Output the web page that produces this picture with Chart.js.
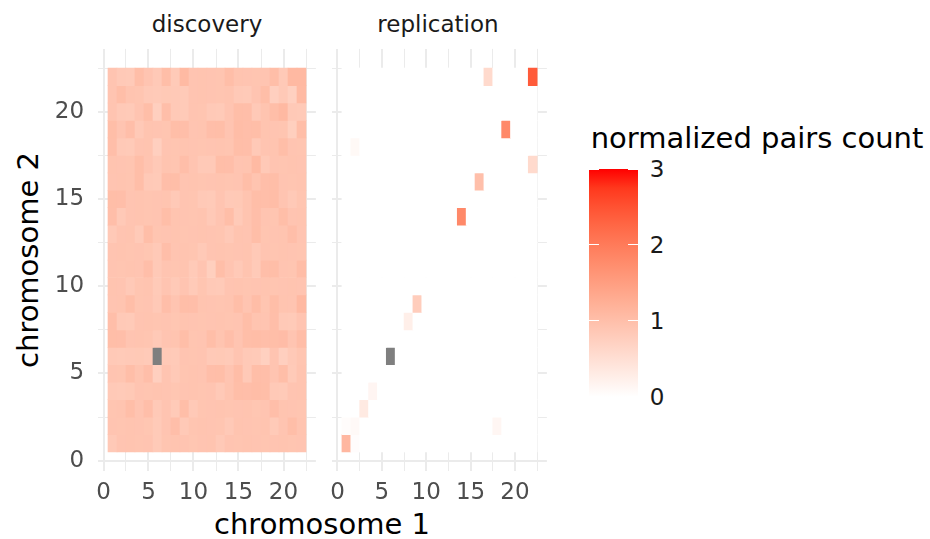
<!DOCTYPE html>
<html>
<head>
<meta charset="utf-8">
<script src="https://cdn.jsdelivr.net/npm/chart.js@4.4.0/dist/chart.umd.min.js"></script>
<style>
  body { margin: 0; background: #fff; width: 930px; height: 539px; position: relative; overflow: hidden; font-family: "DejaVu Sans", sans-serif; }
  canvas { position: absolute; top: 0; }
  .txt { position: absolute; white-space: nowrap; transform: translate(-50%, -50%); }
</style>
</head>
<body>
<div class="txt" id="strip1" style="left:207px; top:24px; font-size:23px; color:#1A1A1A;"></div>
<div class="txt" id="strip2" style="left:438px; top:24px; font-size:23px; color:#1A1A1A;"></div>
<div class="txt" style="left:28px; top:260px; font-size:29px; color:#000; transform: translate(-50%, -50%) rotate(-90deg);">chromosome 2</div>
<div class="txt" style="left:322px; top:524px; font-size:29px; color:#000;">chromosome 1</div>
<div class="txt" style="left:757px; top:138px; font-size:29px; color:#000;">normalized pairs count</div>
<div id="legend"></div>
<canvas id="disc" width="322" height="539" style="left:0px"></canvas>
<canvas id="repl" width="230" height="539" style="left:322px"></canvas>
<script>
var chromosomes = [1,2,3,4,5,6,7,8,9,10,11,12,13,14,15,16,17,18,19,20,21,22];
var facets = ['discovery', 'replication'];
var tickLabels = [0, 5, 10, 15, 20];
var gridValues = [0, 2.5, 5, 7.5, 10, 12.5, 15, 17.5, 20, 22.5];
var legendBreaks = [0, 1, 2, 3];

// rows = chromosome 2 (1..22), columns = chromosome 1 (1..22); null = NA
var discovery = [
  [0.84,0.92,0.93,0.91,0.92,0.83,0.91,0.93,0.92,0.90,0.92, 0.93,0.84,0.92,0.91,0.93,0.92,0.91,0.92,0.93,0.91,0.92],
  [0.92,0.91,0.93,0.92,0.90,0.83,0.92,1.01,0.84,0.91,0.93, 0.92,0.91,0.84,0.93,0.92,0.91,0.93,0.83,0.92,1.02,0.93],
  [0.91,0.93,1.02,0.92,1.01,0.84,0.92,0.83,1.02,0.84,0.91, 0.92,0.93,0.91,0.92,0.93,0.90,0.92,1.01,0.93,0.92,0.91],
  [0.84,0.83,0.85,0.92,0.91,0.93,0.92,0.90,0.92,0.93,0.91, 0.92,0.84,0.93,1.02,1.01,1.03,1.02,0.84,0.83,0.92,0.93],
  [0.92,0.91,1.02,0.93,1.01,0.75,0.92,0.84,0.91,0.93,0.92, 1.01,1.02,0.92,1.03,0.84,1.02,1.01,0.92,1.02,0.83,0.93],
  [0.84,0.83,0.84,0.85,0.83,null,0.84,0.83,0.92,0.91,0.92, 0.84,0.85,0.83,0.92,0.84,0.83,0.74,0.92,0.75,0.84,0.91],
  [1.02,1.01,0.92,0.93,0.91,0.84,0.92,0.93,1.02,0.91,0.92, 1.02,0.93,1.01,0.92,1.02,1.03,1.01,1.02,1.04,0.92,1.03],
  [1.01,0.84,0.83,0.92,0.93,0.91,0.92,0.90,0.93,0.92,0.91, 0.92,0.93,0.91,0.92,1.02,0.93,0.92,1.01,0.84,0.83,0.92],
  [0.92,0.93,1.02,0.91,0.92,0.84,1.01,0.92,1.02,1.01,0.93, 0.92,0.91,0.93,1.02,0.92,1.03,0.91,1.02,0.93,0.92,1.09],
  [0.93,0.92,0.84,0.91,0.93,0.83,0.92,0.84,0.92,0.83,0.91, 0.84,0.83,0.92,0.93,0.91,0.92,0.93,0.91,0.92,0.93,0.92],
  [0.92,0.91,0.93,0.92,1.01,0.84,0.92,0.91,0.93,0.83,0.92, 0.76,1.02,0.92,0.84,0.93,0.83,1.01,1.02,0.92,0.91,1.03],
  [0.92,0.93,0.91,0.92,0.90,0.84,1.01,0.92,0.93,0.91,0.84, 0.92,0.93,0.91,0.92,0.93,0.84,0.92,0.91,0.93,0.92,0.91],
  [0.84,0.92,0.93,0.83,1.02,0.91,0.92,0.93,0.91,0.92,0.93, 0.92,0.91,0.84,0.93,0.92,1.02,0.91,0.92,0.93,1.01,0.92],
  [1.01,0.84,0.92,0.93,0.91,0.92,1.02,0.93,0.92,0.91,0.93, 0.84,0.92,1.02,0.83,0.93,1.01,0.92,0.91,1.02,0.92,0.93],
  [1.02,1.01,0.92,0.93,0.91,0.92,0.93,0.84,0.92,0.91,0.84, 0.83,0.92,0.84,0.85,0.93,1.02,1.01,1.03,0.92,0.84,0.91],
  [0.92,0.93,0.91,1.02,0.84,0.83,1.01,1.02,0.92,0.93,0.91, 0.92,0.93,0.91,0.92,1.02,0.93,1.01,1.02,0.92,0.91,0.93],
  [0.93,0.92,0.91,1.02,0.92,0.84,0.93,0.91,1.01,0.92,0.84, 0.84,1.02,1.01,0.92,0.93,1.08,0.84,0.92,0.91,0.93,0.92],
  [1.01,0.84,0.83,0.92,0.93,0.75,0.92,0.91,0.93,0.92,0.91, 0.92,0.93,0.91,1.02,1.01,0.84,0.92,0.93,1.02,0.92,0.91],
  [1.02,0.92,1.01,0.84,0.93,0.92,0.91,1.02,1.01,0.92,0.93, 1.01,1.02,0.92,1.03,1.01,1.02,0.93,0.92,0.91,0.76,1.02],
  [0.92,0.84,0.83,0.92,1.02,0.75,1.01,0.84,0.83,0.92,0.91, 0.84,0.83,0.92,1.02,1.01,0.84,0.93,1.02,1.09,0.84,0.83],
  [0.92,1.02,0.93,0.91,0.84,0.83,0.85,0.84,0.83,0.92,0.93, 0.92,0.91,0.93,0.84,0.83,0.92,1.02,0.75,0.84,0.74,1.08],
  [0.92,0.84,0.83,1.02,0.92,0.84,1.02,0.83,1.08,0.92,0.93, 0.92,0.91,1.02,0.93,0.92,0.91,0.92,1.02,0.84,1.09,1.10]
];

var replication = [
  [1.12,0.04,0,0,0,0,0,0,0,0,0, 0,0,0,0,0,0,0,0,0,0,0],
  [0.05,0.09,0,0,0,0,0,0,0,0,0, 0,0,0,0,0,0,0.14,0,0,0,0],
  [0,0,0.33,0,0,0,0,0,0,0,0, 0,0,0,0,0,0,0,0,0,0,0],
  [0,0,0,0.15,0,0,0,0,0,0,0, 0,0,0,0,0,0,0,0,0,0,0],
  [0,0,0,0,0,0,0,0,0,0,0, 0,0,0,0,0,0,0,0,0,0,0],
  [0,0,0,0,0,null,0,0,0,0,0, 0,0,0,0,0,0,0,0,0,0,0],
  [0,0,0,0,0,0,0,0,0,0,0, 0,0,0,0,0,0,0,0,0,0,0],
  [0,0,0,0,0,0,0,0.25,0,0,0, 0,0,0,0,0,0,0,0,0,0,0],
  [0,0,0,0,0,0,0,0,0.78,0,0, 0,0,0,0,0,0,0,0,0,0,0],
  [0,0,0,0,0,0,0,0,0,0,0, 0,0,0,0,0,0,0,0,0,0,0],
  [0,0,0,0,0,0,0,0,0,0,0, 0,0,0,0,0,0,0,0,0,0,0],
  [0,0,0,0,0,0,0,0,0,0,0, 0,0,0,0,0,0,0,0,0,0,0],
  [0,0,0,0,0,0,0,0,0,0,0, 0,0,0,0,0,0,0,0,0,0,0],
  [0,0,0,0,0,0,0,0,0,0,0, 0,0,1.80,0,0,0,0,0,0,0,0],
  [0,0,0,0,0,0,0,0,0,0,0, 0,0,0,0,0,0,0,0,0,0,0],
  [0,0,0,0,0,0,0,0,0,0,0, 0,0,0,0,1.00,0,0,0,0,0,0],
  [0,0,0,0,0,0,0,0,0,0,0, 0,0,0,0,0,0,0,0,0,0,0.58],
  [0,0.10,0,0,0,0,0,0,0,0,0, 0,0,0,0,0,0,0,0,0,0,0],
  [0,0,0,0,0,0,0,0,0,0,0, 0,0,0,0,0,0,0,1.80,0,0,0],
  [0,0,0,0,0,0,0,0,0,0,0, 0,0,0,0,0,0,0,0,0,0,0],
  [0,0,0,0,0,0,0,0,0,0,0, 0,0,0,0,0,0,0,0,0,0,0],
  [0,0,0,0,0,0,0,0,0,0,0, 0,0,0,0,0,0.58,0,0,0,0,2.40]
];

var fillMax = 3;
var naColor = '#7F7F7F';

// white -> red gradient interpolated in Lab, like scale_fill_gradient
function toLinear(c) { c /= 255; return c <= 0.04045 ? c / 12.92 : Math.pow((c + 0.055) / 1.055, 2.4); }
function toSrgb(c) { c = Math.max(0, Math.min(1, c)); return Math.round(255 * (c <= 0.0031308 ? 12.92 * c : 1.055 * Math.pow(c, 1 / 2.4) - 0.055)); }
function rgbToLab(r, g, b) {
  r = toLinear(r); g = toLinear(g); b = toLinear(b);
  var X = (0.4124 * r + 0.3576 * g + 0.1805 * b) / 0.95047;
  var Y = (0.2126 * r + 0.7152 * g + 0.0722 * b);
  var Z = (0.0193 * r + 0.1192 * g + 0.9505 * b) / 1.08883;
  function f(t) { return t > 0.008856 ? Math.cbrt(t) : 7.787 * t + 16 / 116; }
  var fx = f(X), fy = f(Y), fz = f(Z);
  return [116 * fy - 16, 500 * (fx - fy), 200 * (fy - fz)];
}
function labToRgb(L, a, bb) {
  var fy = (L + 16) / 116, fx = fy + a / 500, fz = fy - bb / 200;
  function fi(t) { return t * t * t > 0.008856 ? t * t * t : (t - 16 / 116) / 7.787; }
  var X = 0.95047 * fi(fx), Y = fi(fy), Z = 1.08883 * fi(fz);
  var r = 3.2406 * X - 1.5372 * Y - 0.4986 * Z;
  var g = -0.9689 * X + 1.8758 * Y + 0.0415 * Z;
  var b = 0.0557 * X - 0.2040 * Y + 1.0570 * Z;
  return 'rgb(' + toSrgb(r) + ',' + toSrgb(g) + ',' + toSrgb(b) + ')';
}
var lowLab = rgbToLab(255, 255, 255);
var highLab = rgbToLab(255, 0, 0);
function fillColor(v) {
  if (v === null) return naColor;
  var t = Math.max(0, Math.min(1, v / fillMax));
  return labToRgb(lowLab[0] + (highLab[0] - lowLab[0]) * t,
                  lowLab[1] + (highLab[1] - lowLab[1]) * t,
                  lowLab[2] + (highLab[2] - lowLab[2]) * t);
}

function tiles(matrix) {
  var pts = [];
  matrix.forEach(function (row, j) {
    row.forEach(function (v, i) {
      pts.push({ x: [chromosomes[i] - 0.5, chromosomes[i] + 0.5], y: chromosomes[j], v: v });
    });
  });
  return pts;
}

var tickFont = { family: 'DejaVu Sans', size: 23 };
function gridWidth(ctx) {
  return ctx.tick && tickLabels.indexOf(ctx.tick.value) >= 0 ? 2 : 1;
}
function axis(showLabels, fitFn) {
  return {
    type: 'linear',
    min: -0.6,
    max: 23.6,
    offset: false,
    afterBuildTicks: function (s) { s.ticks = gridValues.map(function (v) { return { value: v }; }); },
    afterFit: fitFn,
    ticks: {
      display: showLabels,
      autoSkip: false,
      maxRotation: 0,
      padding: 8,
      color: '#4D4D4D',
      font: tickFont,
      callback: function (v) { return tickLabels.indexOf(v) >= 0 ? String(v) : ''; }
    },
    grid: { color: '#EBEBEB', lineWidth: gridWidth, drawTicks: false, offset: false },
    border: { display: false }
  };
}

function panel(id, matrix, showY) {
  var yAxis = axis(showY, function (s) { s.width = showY ? 98.1 : 0; });
  yAxis.ticks.padding = 14;
  return new Chart(document.getElementById(id), {
    type: 'bar',
    data: {
      datasets: [{
        data: tiles(matrix),
        backgroundColor: function (ctx) { return ctx.raw ? fillColor(ctx.raw.v) : naColor; },
        borderWidth: 0,
        barPercentage: 1,
        categoryPercentage: 1
      }]
    },
    options: {
      indexAxis: 'y',
      responsive: false,
      animation: false,
      events: [],
      layout: { padding: { left: showY ? 0 : 7.1, right: showY ? 6.1 : 5.1, top: 48.9, bottom: 0 } },
      plugins: { legend: { display: false }, tooltip: { enabled: false } },
      scales: {
        x: axis(true, function (s) { s.height = 67.8; }),
        y: yAxis
      }
    }
  });
}

document.getElementById('strip1').textContent = facets[0];
document.getElementById('strip2').textContent = facets[1];
panel('disc', discovery, true);
panel('repl', replication, false);

// colour bar legend
var barTop = 169, barLeft = 589, barW = 49, unit = 75.9;
var legend = document.getElementById('legend');
var stops = [];
for (var k = 0; k <= 12; k++) {
  var val = fillMax * k / 12;
  stops.push(fillColor(val) + ' ' + (100 * k / 12).toFixed(2) + '%');
}
var bar = document.createElement('div');
bar.style.cssText = 'position:absolute;left:' + barLeft + 'px;top:' + barTop + 'px;width:' + barW + 'px;height:' + (fillMax * unit) + 'px;background:linear-gradient(to top,' + stops.join(',') + ');';
legend.appendChild(bar);
legendBreaks.forEach(function (b) {
  var y = barTop + (fillMax - b) * unit;
  [barLeft, barLeft + barW - 10].forEach(function (x) {
    var t = document.createElement('div');
    t.style.cssText = 'position:absolute;left:' + x + 'px;top:' + (y - 0.5) + 'px;width:10px;height:1px;background:#fff;';
    legend.appendChild(t);
  });
  var lab = document.createElement('div');
  lab.className = 'txt';
  lab.style.cssText = 'left:' + (barLeft + barW + 19) + 'px;top:' + y + 'px;font-size:23px;color:#1A1A1A;';
  lab.textContent = String(b);
  legend.appendChild(lab);
});
</script>
</body>
</html>
